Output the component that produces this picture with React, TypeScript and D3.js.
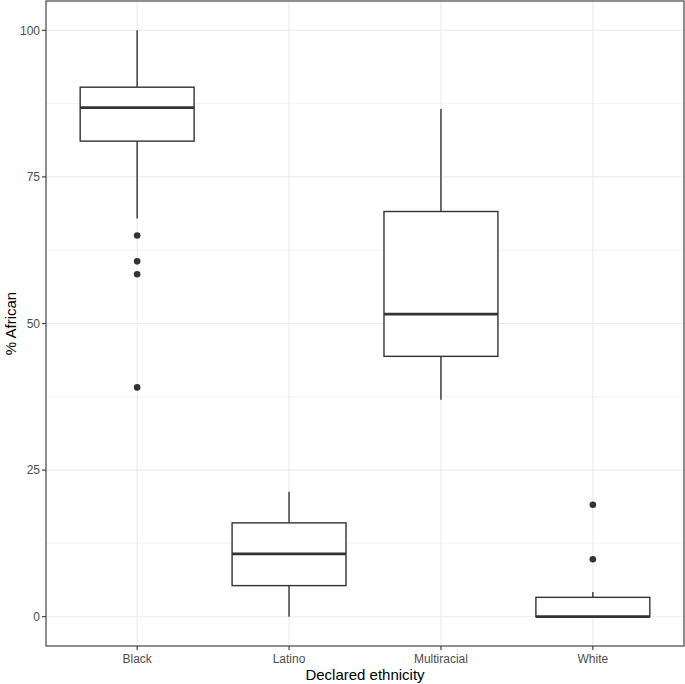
import React from "react";
import * as d3 from "d3";

// values
const categories = ["Black", "Latino", "Multiracial", "White"];
const whiskerLow = [67.9, 0, 37.0, 0];
const q1 = [81.1, 5.3, 44.4, 0];
const median = [86.8, 10.7, 51.6, 0];
const q3 = [90.3, 16.0, 69.1, 3.3];
const whiskerHigh = [100, 21.3, 86.6, 4.2];
const outliers = [[65.0, 60.6, 58.4, 39.1], [], [], [19.1, 9.8]];
const yTicks = [0, 25, 50, 75, 100];
const yMinor = [12.5, 37.5, 62.5, 87.5];

const W = 685;
const H = 684;
const margin = { top: 1, right: 1, bottom: 38, left: 46 };

const App = () => {
    const left = margin.left;
    const right = W - margin.right;
    const top = margin.top;
    const bottom = H - margin.bottom;

    // ggplot style discrete axis: 0.6 expansion on each side
    const x = d3.scaleLinear().domain([0.4, categories.length + 0.6]).range([left, right]);
    const y = d3.scaleLinear().domain([-5, 105]).range([bottom, top]);
    const boxW = x(1.75) - x(1);

    const ink = "#333333";
    const grid = "#ebebeb";
    const font = "'Liberation Sans', Arial, sans-serif";

    return (
        <svg width={W} height={H} style={{ display: "block", position: "absolute", left: 0, top: 0 }}>
            <rect x={0} y={0} width={W} height={H} fill="#ffffff" />
            {/* minor grid */}
            {yMinor.map((t) => (
                <line key={"m" + t} x1={left} x2={right} y1={y(t)} y2={y(t)} stroke={grid} strokeWidth={0.6} />
            ))}
            {/* major grid */}
            {yTicks.map((t) => (
                <line key={"g" + t} x1={left} x2={right} y1={y(t)} y2={y(t)} stroke={grid} strokeWidth={1.1} />
            ))}
            {categories.map((c, i) => (
                <line key={"v" + c} x1={x(i + 1)} x2={x(i + 1)} y1={top} y2={bottom} stroke={grid} strokeWidth={1.1} />
            ))}

            {/* boxes */}
            {categories.map((c, i) => {
                const cx = x(i + 1);
                return (
                    <g key={c} stroke={ink} fill="none">
                        <line x1={cx} x2={cx} y1={y(q3[i])} y2={y(whiskerHigh[i])} strokeWidth={1.4} />
                        <line x1={cx} x2={cx} y1={y(q1[i])} y2={y(whiskerLow[i])} strokeWidth={1.4} />
                        <rect
                            x={cx - boxW / 2}
                            y={y(q3[i])}
                            width={boxW}
                            height={Math.max(0, y(q1[i]) - y(q3[i]))}
                            fill="#ffffff"
                            strokeWidth={1.4}
                        />
                        <line x1={cx - boxW / 2} x2={cx + boxW / 2} y1={y(median[i])} y2={y(median[i])} strokeWidth={2.8} />
                        {outliers[i].map((o, j) => (
                            <circle key={j} cx={cx} cy={y(o)} r={3.3} fill={ink} stroke="none" />
                        ))}
                    </g>
                );
            })}

            {/* panel border */}
            <rect x={left} y={top} width={right - left} height={bottom - top} fill="none" stroke={ink} strokeWidth={1.1} />

            {/* y axis */}
            {yTicks.map((t) => (
                <g key={"yt" + t}>
                    <line x1={left - 4} x2={left} y1={y(t)} y2={y(t)} stroke={ink} strokeWidth={1.1} />
                    <text x={left - 6} y={y(t)} dy="0.35em" textAnchor="end" fontSize={12} fill="#4d4d4d" fontFamily={font}>
                        {t}
                    </text>
                </g>
            ))}
            {/* x axis */}
            {categories.map((c, i) => (
                <g key={"xt" + c}>
                    <line x1={x(i + 1)} x2={x(i + 1)} y1={bottom} y2={bottom + 4} stroke={ink} strokeWidth={1.1} />
                    <text x={x(i + 1)} y={bottom + 17} textAnchor="middle" fontSize={12} fill="#4d4d4d" fontFamily={font}>
                        {c}
                    </text>
                </g>
            ))}

            <text x={(left + right) / 2} y={H - 4} textAnchor="middle" fontSize={15} fill="#000000" fontFamily={font}>
                Declared ethnicity
            </text>
            <text
                transform={`translate(16, ${(top + bottom) / 2}) rotate(-90)`}
                textAnchor="middle"
                fontSize={15}
                fill="#000000"
                fontFamily={font}
            >
                % African
            </text>
        </svg>
    );
};

export default App;
